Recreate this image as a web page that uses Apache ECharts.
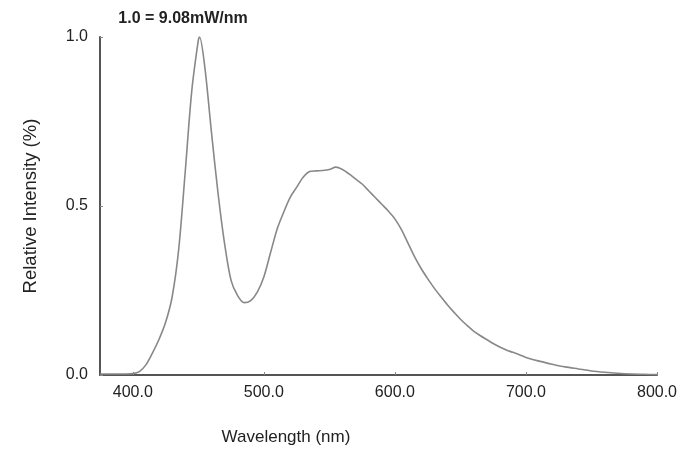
<!DOCTYPE html>
<html>
<head>
<meta charset="utf-8">
<script src="https://cdn.jsdelivr.net/npm/echarts@6/dist/echarts.min.js"></script>
<style>html,body{margin:0;padding:0;background:#fff;}#c{width:695px;height:451px;}</style>
</head>
<body>
<div id="c"></div>
<script>
var wavelengths = [375,380,385,390,395,400,405,410,415,420,425,430,435,440,445,450,451,455,460,465,470,475,480,485,490,495,500,505,510,515,520,525,530,535,540,545,550,555,560,565,570,575,580,585,590,595,600,605,610,615,620,625,630,635,640,645,650,655,660,665,670,675,680,685,690,695,700,710,720,730,740,750,760,770,780,790,800];
var intensity = [0.003,0.003,0.003,0.003,0.003,0.004,0.01,0.03,0.065,0.105,0.155,0.23,0.37,0.60,0.84,0.99,1.0,0.91,0.72,0.54,0.39,0.28,0.235,0.214,0.22,0.245,0.29,0.36,0.43,0.48,0.525,0.555,0.585,0.602,0.604,0.605,0.608,0.615,0.608,0.595,0.58,0.565,0.545,0.525,0.505,0.485,0.462,0.43,0.39,0.35,0.315,0.285,0.257,0.232,0.208,0.186,0.165,0.147,0.13,0.117,0.105,0.093,0.083,0.074,0.067,0.06,0.052,0.041,0.032,0.024,0.018,0.012,0.008,0.005,0.003,0.002,0.001];
var xTicks = [400,500,600,700,800];
var topNote = '1.0 = 9.08mW/nm';
var xName = 'Wavelength (nm)';
var yName = 'Relative Intensity (%)';

var data = wavelengths.map(function(w,i){return [w,intensity[i]];});
var chart = echarts.init(document.getElementById('c'));
chart.setOption({
  backgroundColor:'#fff',
  animation:false,
  textStyle:{fontFamily:'Liberation Sans, Arial, sans-serif'},
  title:[
    {text:topNote,left:183,top:11,padding:0,textAlign:'center',textStyle:{fontSize:16,fontWeight:'bold',color:'#222'}},
    {text:xName,left:286,top:429,padding:0,textAlign:'center',textStyle:{fontSize:17,fontWeight:'normal',color:'#222'}}
  ],
  grid:{left:100,right:38,top:37,bottom:76},
  xAxis:{
    type:'value',min:375,max:800,
    axisLine:{lineStyle:{color:'#555',width:2}},
    axisTick:{show:true,inside:true,length:3,lineStyle:{color:'#888'},customValues:xTicks},
    axisLabel:{fontSize:16,color:'#222',margin:10,customValues:xTicks,formatter:function(v){return v.toFixed(1);}},
    splitLine:{show:false}
  },
  yAxis:{
    type:'value',min:0,max:1,interval:0.5,
    name:yName,nameLocation:'middle',nameGap:60,
    nameTextStyle:{fontSize:18.5,color:'#222'},
    axisLine:{show:true,lineStyle:{color:'#555',width:2}},
    axisTick:{show:true,inside:true,length:3,lineStyle:{color:'#888'}},
    axisLabel:{fontSize:16,color:'#222',margin:12,formatter:function(v){return v.toFixed(1);}},
    splitLine:{show:false}
  },
  series:[{
    type:'line',data:data,smooth:0.3,showSymbol:false,
    lineStyle:{color:'#888',width:1.6}
  }]
});
</script>
</body>
</html>
